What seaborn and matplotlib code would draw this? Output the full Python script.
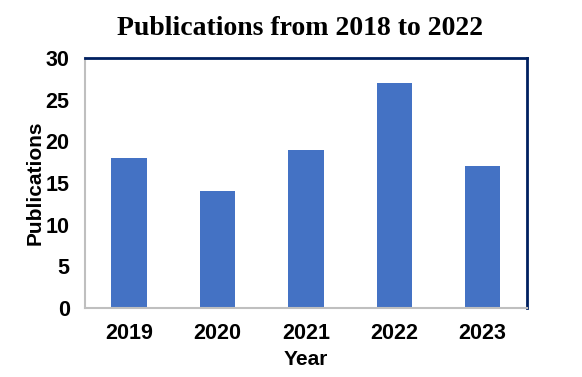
import matplotlib
matplotlib.use("Agg")
import matplotlib.pyplot as plt
import seaborn as sns
import pandas as pd

years = ["2019", "2020", "2021", "2022", "2023"]
publications = [18, 14, 19, 27, 17]

df = pd.DataFrame({"Year": years, "Publications": publications})

sns.set_style("white")
plt.rcParams["font.family"] = ["Liberation Sans", "DejaVu Sans"]
plt.rcParams["text.color"] = "black"
plt.rcParams["axes.labelcolor"] = "black"

fig = plt.figure(figsize=(5.82, 3.77), dpi=100)
ax = fig.add_axes([0.146, 0.183, 0.759, 0.663])

sns.barplot(data=df, x="Year", y="Publications", color="#4472C4",
            width=0.4, saturation=1, linewidth=0, ax=ax)

ax.set_ylim(0, 30)
ax.set_xlim(-0.5, 4.5)
ax.set_yticks(range(0, 31, 5))

for side in ["left", "bottom"]:
    ax.spines[side].set_color("#BFBFBF")
    ax.spines[side].set_linewidth(1.5)
for side in ["top", "right"]:
    ax.spines[side].set_color("#002060")
    ax.spines[side].set_linewidth(2)

ax.tick_params(axis="both", colors="#BFBFBF", labelcolor="black",
               length=5, width=1.5, labelsize=15.5)
ax.tick_params(axis="y", pad=6)
ax.tick_params(axis="x", pad=6)
for lab in ax.get_xticklabels() + ax.get_yticklabels():
    lab.set_fontweight("bold")

ax.set_xlabel("Year", fontsize=15, fontweight="bold", labelpad=4)
ax.set_ylabel("Publications", fontsize=15, fontweight="bold", labelpad=1)

fig.suptitle("Publications from 2018 to 2022", x=0.515, y=0.958,
             fontsize=20, fontweight="bold", family="Liberation Serif")

fig.savefig("out.png", dpi=100)
